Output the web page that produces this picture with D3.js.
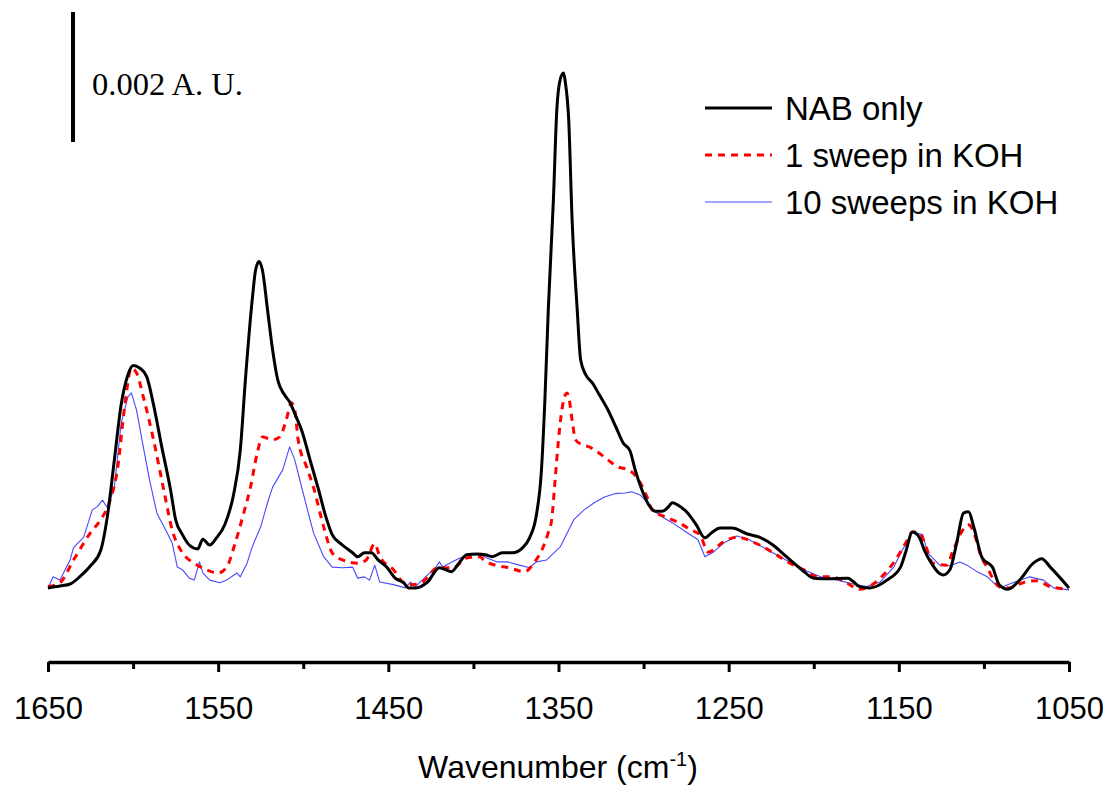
<!DOCTYPE html>
<head>
<meta charset="utf-8">
<script src="https://d3js.org/d3.v7.min.js"></script>
<style>
    body { margin: 0; background: #fff; }
    .tick text { font-family: Arial, "Liberation Sans", sans-serif; font-size: 31px; fill: #000; }
    .serie { fill: none; stroke-linejoin: round; stroke-linecap: butt; }
</style>
</head>
<body>
<svg></svg>
<script>
    var width = 1109;
    var height = 786;

    // absorbance in units of 0.001 A.U. (baseline at the lowest point)
    var nabWn  = [1650,1643,1637,1631,1625,1619,1615,1611,1607,1603,1600,1596,1592,1588,1583,1578,1575,1571,1567,1562,1559,1555,1551,1546,1541,1537,1534,1530,1528,1526,1524,1521,1518,1515,1511,1508,1504,1501,1496,1491,1487,1483,1477,1471,1468,1464,1460,1456,1451,1446,1441,1438,1434,1427,1420,1413,1408,1404,1398,1393,1389,1383,1377,1371,1367,1363,1360,1358,1356,1353,1351,1349,1347,1346,1344,1342,1339,1337,1334,1330,1326,1321,1316,1312,1308,1305,1301,1297,1293,1289,1286,1283,1279,1274,1269,1264,1260,1255,1248,1239,1232,1224,1216,1207,1200,1192,1180,1173,1167,1157,1149,1146,1142,1138,1135,1132,1124,1120,1116,1112,1109,1106,1101,1095,1091,1086,1079,1071,1066,1061,1050];
    var nabVal = [0,0.03,0.06,0.18,0.34,0.58,1.12,1.97,2.82,3.28,3.42,3.38,3.25,2.82,2.15,1.51,1.05,0.82,0.66,0.60,0.75,0.66,0.77,0.98,1.43,2.12,3.20,4.43,4.89,5.02,4.89,4.28,3.66,3.20,2.97,2.86,2.62,2.43,1.97,1.51,1.12,0.82,0.66,0.54,0.48,0.54,0.54,0.43,0.32,0.15,0.08,0,0,0.09,0.31,0.25,0.40,0.51,0.52,0.51,0.48,0.54,0.54,0.62,0.77,1.12,1.82,2.89,4.28,5.97,7.35,7.82,7.92,7.78,7.20,5.66,4.28,3.51,3.28,3.15,2.97,2.74,2.46,2.23,2.11,1.82,1.51,1.28,1.18,1.18,1.23,1.31,1.26,1.15,0.97,0.77,0.85,0.92,0.92,0.83,0.78,0.66,0.48,0.28,0.15,0.14,0.15,0.02,0,0.12,0.32,0.55,0.86,0.78,0.58,0.43,0.20,0.28,0.69,1.15,1.17,0.94,0.46,0.32,0.05,-0.02,0.12,0.38,0.45,0.32,0];

    var koh1Wn  = [1650,1643,1635,1625,1619,1614,1609,1605,1601,1598,1594,1588,1582,1577,1571,1564,1557,1550,1545,1540,1535,1531,1527,1524,1518,1514,1510,1507,1505,1503,1498,1494,1488,1483,1477,1468,1463,1458,1455,1447,1441,1436,1430,1421,1412,1404,1396,1394,1387,1379,1370,1364,1359,1356,1354,1352,1350,1348,1346,1345,1344,1342,1340,1336,1332,1327,1321,1315,1309,1302,1298,1295,1286,1279,1272,1267,1262,1253,1245,1236,1229,1222,1214,1206,1198,1189,1181,1173,1165,1158,1152,1146,1142,1138,1134,1130,1122,1118,1114,1109,1105,1102,1098,1091,1085,1077,1069,1061,1050];
    var koh1Val = [0.02,0.08,0.43,0.85,1.05,1.31,1.86,2.78,3.38,3.31,2.94,2.28,1.51,0.89,0.54,0.38,0.28,0.23,0.32,0.69,1.15,1.55,2.08,2.32,2.28,2.32,2.58,2.85,2.74,2.28,1.86,1.55,0.94,0.54,0.43,0.38,0.43,0.68,0.48,0.28,0.08,0.05,0.09,0.31,0.31,0.46,0.48,0.43,0.35,0.31,0.25,0.40,0.63,0.85,1.05,1.66,2.28,2.74,2.97,3.00,2.94,2.58,2.28,2.20,2.17,2.09,1.97,1.86,1.82,1.62,1.40,1.20,1.08,1.00,0.89,0.82,0.55,0.71,0.78,0.71,0.62,0.51,0.38,0.28,0.17,0.17,0.08,-0.02,0.06,0.23,0.43,0.69,0.86,0.85,0.63,0.38,0.35,0.58,0.82,0.97,0.78,0.51,0.31,0.02,0,0.08,0.11,0.02,-0.02];

    var koh10Wn  = [1650,1647,1643,1637,1635,1629,1624,1621,1618,1615,1611,1607,1603,1601,1598,1594,1590,1586,1580,1577,1574,1571,1567,1564,1561,1559,1555,1549,1545,1539,1537,1533,1530,1525,1521,1518,1512,1508,1505,1502,1498,1494,1488,1483,1477,1471,1468,1464,1461,1458,1455,1447,1440,1437,1434,1427,1423,1420,1418,1414,1408,1402,1396,1392,1386,1380,1373,1367,1363,1357,1349,1341,1335,1329,1323,1317,1311,1307,1302,1298,1295,1289,1283,1275,1268,1264,1259,1253,1245,1238,1230,1222,1214,1206,1196,1186,1177,1169,1161,1153,1148,1142,1136,1133,1126,1120,1114,1110,1104,1098,1091,1083,1073,1065,1059,1050];
    var koh10Val = [0,0.17,0.12,0.43,0.62,0.78,1.20,1.25,1.35,1.23,1.55,2.54,2.94,3.00,2.74,2.17,1.62,1.15,0.85,0.69,0.32,0.28,0.15,0.12,0.40,0.23,0.12,0.08,0.12,0.23,0.17,0.38,0.63,0.94,1.31,1.55,1.82,2.17,1.97,1.66,1.25,0.85,0.48,0.32,0.31,0.32,0.15,0.17,0.12,0.35,0.09,0.05,0,0.09,0.02,0.20,0.28,0.40,0.32,0.38,0.46,0.51,0.51,0.46,0.40,0.40,0.35,0.31,0.40,0.43,0.63,1.05,1.20,1.31,1.40,1.45,1.46,1.48,1.43,1.32,1.20,1.09,1.00,0.86,0.74,0.48,0.55,0.69,0.80,0.74,0.63,0.51,0.40,0.28,0.17,0.12,0.06,0.02,0.09,0.32,0.58,0.86,0.82,0.54,0.35,0.34,0.40,0.35,0.25,0.17,0,0.08,0.17,0.12,0,-0.03];

    var labelTicks = [1650,1550,1450,1350,1250,1150,1050];
    var minorTicks = [1600,1500,1400,1300,1200,1100];
    var seriesNames = ["NAB only","1 sweep in KOH","10 sweeps in KOH"];

    var svg = d3.select("svg")
        .attr("width", width)
        .attr("height", height);

    var x = d3.scaleLinear().domain([1650, 1050]).range([48, 1069]);
    var y = d3.scaleLinear().domain([-1.14, 8.86]).range([662, 12]);

    function pairs(wn, val) {
        return wn.map(function(w, i) { return [w, val[i]]; });
    }

    var series = [
        {name: seriesNames[0], data: pairs(nabWn, nabVal), color: "#000", w: 3, dash: null, curve: d3.curveMonotoneX},
        {name: seriesNames[1], data: pairs(koh1Wn, koh1Val), color: "#ff0000", w: 3, dash: "7,6", curve: d3.curveMonotoneX},
        {name: seriesNames[2], data: pairs(koh10Wn, koh10Val), color: "#4848ff", w: 1.1, dash: null, curve: d3.curveLinear}
    ];

    // draw in reverse so the black line sits on top
    series.slice().reverse().forEach(function(s) {
        var line = d3.line()
            .x(function(d) { return x(d[0]); })
            .y(function(d) { return y(d[1]); })
            .curve(s.curve);
        svg.append("path")
            .datum(s.data)
            .attr("class", "serie")
            .attr("d", line)
            .attr("stroke", s.color)
            .attr("stroke-width", s.w)
            .attr("stroke-dasharray", s.dash);
    });

    // **** X AXIS ****
    var minorAxis = d3.axisBottom(x).tickValues(minorTicks).tickSize(7).tickSizeOuter(0).tickFormat("");
    svg.append("g")
        .attr("transform", "translate(0,662)")
        .call(minorAxis)
        .call(function(g) { g.select(".domain").remove(); })
        .selectAll("line").attr("stroke", "#000").attr("stroke-width", 3);

    var axis = d3.axisBottom(x).tickValues(labelTicks).tickSize(10).tickSizeOuter(0).tickPadding(25)
        .tickFormat(d3.format("d"));
    var gx = svg.append("g")
        .attr("transform", "translate(0,662)")
        .call(axis);
    gx.select(".domain").attr("stroke", "#000").attr("stroke-width", 3.5);
    gx.selectAll(".tick line").attr("stroke", "#000").attr("stroke-width", 3);

    var title = svg.append("text")
        .attr("x", 558)
        .attr("y", 778)
        .attr("text-anchor", "middle")
        .style("font-family", "Arial, 'Liberation Sans', sans-serif")
        .style("font-size", "32px");
    title.append("tspan").text("Wavenumber (cm");
    title.append("tspan").attr("dy", -12).style("font-size", "20px").text("-1");
    title.append("tspan").attr("dy", 12).text(")");

    // **** SCALE BAR ****
    svg.append("line")
        .attr("x1", 73).attr("x2", 73)
        .attr("y1", y(8.86)).attr("y2", y(6.86))
        .attr("stroke", "#000")
        .attr("stroke-width", 4);
    svg.append("text")
        .attr("x", 92)
        .attr("y", 95)
        .style("font-family", "'Liberation Serif', 'Times New Roman', serif")
        .style("font-size", "32.5px")
        .text("0.002 A. U.");

    // **** LEGEND ****
    var legend = svg.append("g");
    series.forEach(function(s, i) {
        var ly = 108 + i * 47;
        legend.append("line")
            .attr("x1", 705).attr("x2", 772)
            .attr("y1", ly).attr("y2", ly)
            .attr("stroke", s.color)
            .attr("stroke-width", s.w)
            .attr("stroke-dasharray", s.dash);
        legend.append("text")
            .attr("x", 785)
            .attr("y", ly + 12)
            .style("font-family", "Arial, 'Liberation Sans', sans-serif")
            .style("font-size", "33px")
            .text(s.name);
    });
</script>
</body>
